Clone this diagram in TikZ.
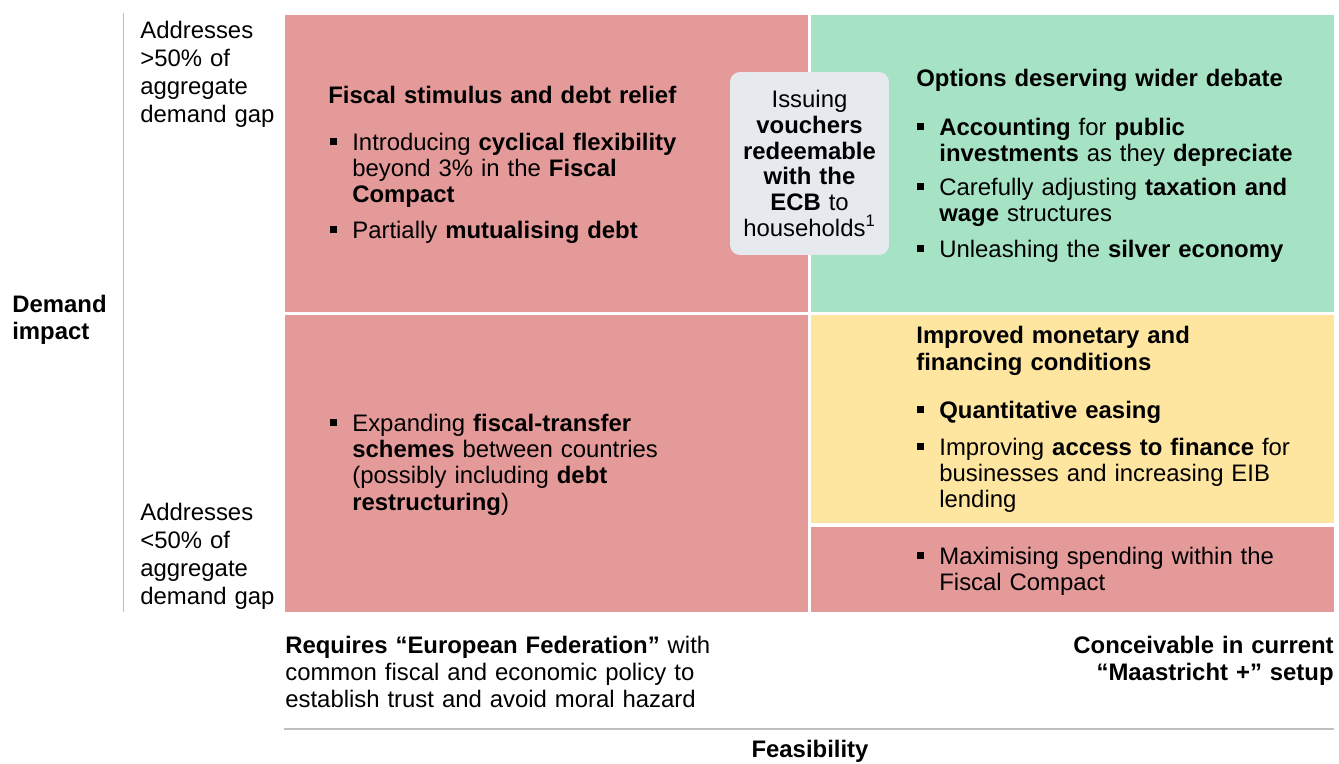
\documentclass[tikz,border=0pt]{standalone}
\usepackage{fontspec}
\setmainfont{Liberation Sans}

\definecolor{quadred}{HTML}{E59A9A}
\definecolor{quadgreen}{HTML}{A6E3C5}
\definecolor{quadyellow}{HTML}{FFE6A0}
\definecolor{calloutgray}{HTML}{E6EAEE}
\definecolor{axisgray}{HTML}{BFBFBF}

% small square bullet hanging left of the item text
\newcommand{\sqbul}{\llap{\raisebox{2.6pt}{\rule{4pt}{4pt}}\hspace{8.6pt}}}

\tikzset{
  txt/.style={anchor=base west, inner sep=0pt, text width=12cm, align=left,
    font=\fontsize{13.6}{15}\selectfont},
  sidetxt/.style={txt, font=\fontsize{13.6}{16.1}\selectfont},
  callout/.style={rounded corners=0.2cm, fill=calloutgray, inner sep=0pt,
    minimum width=3.18cm, minimum height=3.66cm, text width=3cm, align=center,
    font=\fontsize{13.6}{14.6}\selectfont}
}

\begin{document}
\begin{tikzpicture}[x=0.02cm, y=-0.02cm]
  \useasboundingbox (0,0) rectangle (1339,764);

  % quadrants
  \fill[quadred] (285,15) rectangle (808,312);
  \fill[quadgreen] (811,15) rectangle (1334,312);
  \fill[quadred] (285,315) rectangle (808,612);
  \fill[quadyellow] (811,315) rectangle (1334,523);
  \fill[quadred] (811,527) rectangle (1334,612);

  % axes
  \draw[axisgray, line width=0.03cm] (123.5,13) -- (123.5,612);
  \draw[axisgray, line width=0.04cm] (284,729) -- (1334,729);

  \node[txt, font=\bfseries\fontsize{13.6}{15.4}\selectfont] (dimp) at (12,312) {Demand\\impact};
  \node[sidetxt] (hi) at (140,38) {Addresses\\>50\% of\\aggregate\\demand gap};
  \node[sidetxt] (lo) at (140,520) {Addresses\\<50\% of\\aggregate\\demand gap};

  % top left
  \node[txt] (fisc) at (328,103) {\textbf{Fiscal stimulus and debt relief}};
  \node[txt] (cyc) at (352,150) {\sqbul Introducing \textbf{cyclical flexibility}\\beyond 3\% in the \textbf{Fiscal}\\\textbf{Compact}};
  \node[txt] (mutu) at (352,238) {\sqbul Partially \textbf{mutualising debt}};

  % top right
  \node[txt] (opt) at (916,86) {\textbf{Options deserving wider debate}};
  \node[txt] (acc) at (939,135) {\sqbul\textbf{Accounting} for \textbf{public}\\\textbf{investments} as they \textbf{depreciate}};
  \node[txt] (tax) at (939,195) {\sqbul Carefully adjusting \textbf{taxation and}\\\textbf{wage} structures};
  \node[txt] (silv) at (939,257) {\sqbul Unleashing the \textbf{silver economy}};

  \node[callout] (vouch) at (809.5,163.5) {Issuing\\\textbf{vouchers}\\\textbf{redeemable}\\\textbf{with the}\\\textbf{ECB} to\\households\textsuperscript{1}};

  % bottom left
  \node[txt] (trans) at (352,431) {\sqbul Expanding \textbf{fiscal-transfer}\\\textbf{schemes} between countries\\(possibly including \textbf{debt}\\\textbf{restructuring})};

  % bottom right
  \node[txt, font=\bfseries\fontsize{13.6}{15.9}\selectfont] (mon) at (916,343) {Improved monetary and\\financing conditions};
  \node[txt] (qe) at (939,418) {\sqbul\textbf{Quantitative easing}};
  \node[txt] (fin) at (939,455) {\sqbul Improving \textbf{access to finance} for\\businesses and increasing EIB\\lending};
  \node[txt] (spend) at (939,564) {\sqbul Maximising spending within the\\Fiscal Compact};

  % feasibility axis
  \node[txt, font=\fontsize{13.6}{15.6}\selectfont] (fed) at (285,653) {\textbf{Requires “European Federation”} with\\common fiscal and economic policy to\\establish trust and avoid moral hazard};
  \node[txt, anchor=base east, align=right, font=\bfseries\fontsize{13.6}{15.6}\selectfont] (maas) at (1334,653) {Conceivable in current\\“Maastricht +” setup};
  \node[anchor=base, inner sep=0pt, font=\bfseries\fontsize{13.6}{15}\selectfont] (feas) at (810,757) {Feasibility};
\end{tikzpicture}
\end{document}
